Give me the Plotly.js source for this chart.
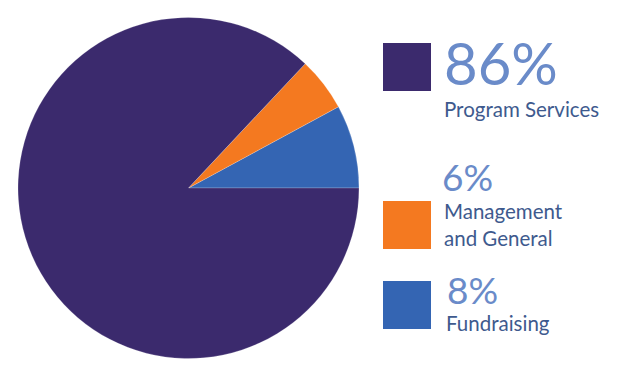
<!DOCTYPE html>
<html>
<head>
<meta charset="utf-8">
<script src="https://cdn.plot.ly/plotly-3.0.1.min.js"></script>
<style>html,body{margin:0;padding:0;background:#fff;}#chart{width:623px;height:380px;}</style>
</head>
<body>
<div id="chart"></div>
<script>
// Data (slice order: counterclockwise from 3 o'clock)
var categories = ["Fundraising", "Management and General", "Program Services"];
var sliceValues = [7.9, 5.1, 87.0];          // shares as drawn in the picture
var pctLabels = ["8%", "6%", "86%"];          // percentages as printed
var legendNames = ["Fundraising", "Management<br>and General", "Program Services"];
var colors = ["#3465b3", "#f47920", "#3b2a6d"];

var W = 623, H = 380;
function px(x){ return x / W; }
function py(y){ return 1 - y / H; }

var total = sliceValues.reduce(function(a, b){ return a + b; }, 0);

var trace = {
  type: "pie",
  labels: categories,
  values: sliceValues,
  sort: false,
  direction: "counterclockwise",
  rotation: 90 - 360 * sliceValues[0] / total,
  textinfo: "none",
  hoverinfo: "none",
  showlegend: false,
  marker: { colors: colors, line: { color: "rgba(255,255,255,0.25)", width: 0.8 } },
  domain: { x: [px(18), px(359)], y: [py(358.5), py(17.5)] }
};

var blocks = [
  { idx: 2, sq: 43, pctY: 63, pctSize: 58, pctX: 442, labY: 109, labX: 442 },
  { idx: 1, sq: 201, pctY: 176, pctSize: 37, pctX: 440, labY: 225, labX: 442 },
  { idx: 0, sq: 281, pctY: 289, pctSize: 37, pctX: 445, labY: 323, labX: 444 }
];

var shapes = [], annotations = [];
blocks.forEach(function(b){
  shapes.push({ type: "rect", xref: "paper", yref: "paper",
    x0: px(383), x1: px(431), y0: py(b.sq + 48), y1: py(b.sq),
    fillcolor: colors[b.idx], line: { width: 0 } });
  annotations.push({ xref: "paper", yref: "paper", x: px(b.pctX), y: py(b.pctY),
    xanchor: "left", yanchor: "middle", showarrow: false, text: pctLabels[b.idx],
    font: { family: "Lato", size: b.pctSize, color: "#6a8bc9" } });
  annotations.push({ xref: "paper", yref: "paper", x: px(b.labX), y: py(b.labY),
    xanchor: "left", yanchor: "middle", align: "left", showarrow: false, text: legendNames[b.idx],
    font: { family: "Lato", size: 20.5, color: "#3e5a8e" } });
});

var layout = {
  width: W, height: H,
  margin: { l: 0, r: 0, t: 0, b: 0 },
  paper_bgcolor: "#ffffff",
  shapes: shapes,
  annotations: annotations
};

Plotly.newPlot("chart", [trace], layout, { displayModeBar: false, staticPlot: true });
</script>
</body>
</html>
